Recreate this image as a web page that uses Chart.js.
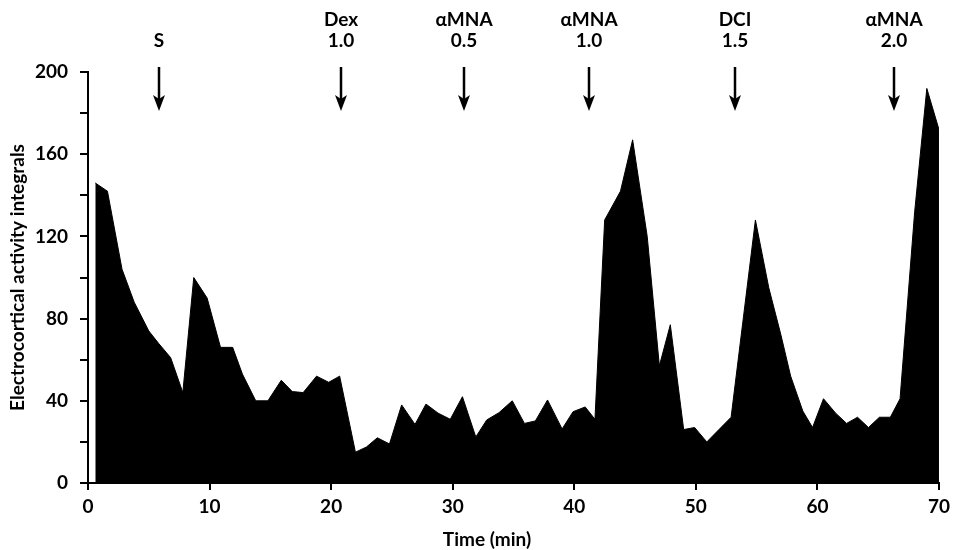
<!DOCTYPE html>
<html>
<head>
<meta charset="utf-8">
<title>Electrocortical activity</title>
<script src="https://cdn.jsdelivr.net/npm/chart.js@4.4.1/dist/chart.umd.min.js"></script>
<style>
  html, body { margin: 0; padding: 0; background: #fff; }
  #chart { display: block; }
</style>
</head>
<body>
<canvas id="chart" width="955" height="550"></canvas>
<script>
"use strict";

// time (min) of each sample and its integral
var times = [0.6, 1.6, 2.8, 3.8, 5.0, 5.8, 6.8, 7.8, 8.7, 9.8,
  10.9, 11.9, 12.7, 13.8, 14.8, 15.9, 16.8, 17.7, 18.8, 19.8,
  20.7, 22.0, 22.9, 23.8, 24.8, 25.8, 26.9, 27.8, 28.8, 29.8,
  30.8, 31.9, 32.8, 33.8, 34.9, 35.9, 36.8, 37.8, 39.0, 39.9,
  40.9, 41.7, 42.5, 43.8, 44.8, 46.0, 47.0, 47.9, 49.0, 49.9,
  50.9, 51.9, 52.9, 54.9, 56.0, 57.0, 57.8, 58.8, 59.6, 60.5,
  61.5, 62.4, 63.3, 64.2, 65.1, 66.0, 66.8, 68.0, 69.0, 70.0];
var values = [146, 142, 104, 88, 74, 68, 61, 44, 100, 90,
  66, 66, 53, 40, 40, 50, 44.5, 44, 52, 49,
  52, 15, 17.5, 22, 19, 38, 28.5, 38.4, 34, 31,
  42, 22.4, 30.7, 34.2, 40, 29, 30.2, 40.4, 26.3, 34.7,
  37, 31, 128, 142, 167, 120, 57, 77, 26, 27,
  20, 26, 32, 128, 95, 72, 52, 35, 27, 41,
  34, 29, 32, 27, 32, 32, 41, 132, 192, 172];

// drug injections marked with arrows above the trace
var arrowTimes = [5.8, 20.8, 30.9, 41.2, 53.2, 66.3];
var arrowNames = ["", "Dex", "αMNA", "αMNA", "DCI", "αMNA"];
var arrowDoses = ["S", "1.0", "0.5", "1.0", "1.5", "2.0"];

var FONT = "Lato, 'Open Sans', sans-serif";
var FS = 19;

var points = times.map(function (t, i) { return { x: t, y: values[i] }; });

var arrowPlugin = {
  id: "arrows",
  afterDraw: function (chart) {
    var ctx = chart.ctx;
    var xs = chart.scales.x;
    ctx.save();
    ctx.fillStyle = "#000";
    ctx.strokeStyle = "#000";
    ctx.font = "bold " + FS + "px " + FONT;
    ctx.textAlign = "center";
    ctx.textBaseline = "middle";
    arrowTimes.forEach(function (t, i) {
      var px = Math.round(xs.getPixelForValue(t));
      if (arrowNames[i]) ctx.fillText(arrowNames[i], px, 20);
      ctx.fillText(arrowDoses[i], px, 41);
      ctx.lineWidth = 2.5;
      ctx.beginPath();
      ctx.moveTo(px, 67);
      ctx.lineTo(px, 100);
      ctx.stroke();
      ctx.beginPath();
      ctx.moveTo(px - 6, 95);
      ctx.lineTo(px, 111);
      ctx.lineTo(px + 6, 95);
      ctx.lineTo(px, 99);
      ctx.closePath();
      ctx.fill();
    });
    // x axis title sits a little left of the axis centre in the original
    ctx.fillText("Time (min)", 487, 540);
    ctx.restore();
  }
};

new Chart(document.getElementById("chart"), {
  type: "line",
  data: {
    datasets: [{
      data: points,
      borderColor: "#000",
      backgroundColor: "#000",
      borderWidth: 1,
      pointRadius: 0,
      tension: 0,
      fill: "origin"
    }]
  },
  options: {
    responsive: false,
    animation: false,
    devicePixelRatio: 1,
    layout: { padding: { top: 72, right: 13, left: 0, bottom: 0 } },
    plugins: { legend: { display: false }, tooltip: { enabled: false } },
    scales: {
      x: {
        type: "linear", min: 0, max: 70,
        afterFit: function (s) { s.height = 67; },
        border: { display: true, color: "#000", width: 2 },
        grid: { drawOnChartArea: false, drawTicks: true, tickLength: 7, color: "#000", lineWidth: 2 },
        ticks: { stepSize: 10, padding: 5, color: "#000", font: { family: FONT, size: FS, weight: "bold" } }
      },
      y: {
        min: 0, max: 200,
        afterFit: function (s) { s.width = 88; },
        border: { display: true, color: "#000", width: 2 },
        grid: { drawOnChartArea: false, drawTicks: true, tickLength: 8, color: "#000", lineWidth: 2 },
        ticks: {
          stepSize: 20, padding: 12, color: "#000",
          font: { family: FONT, size: FS, weight: "bold" },
          callback: function (v) { return v % 40 === 0 ? v : ""; }
        },
        title: { display: true, text: "Electrocortical activity integrals", color: "#000",
          padding: { top: 6, bottom: 0 }, font: { family: FONT, size: FS, weight: "bold" } }
      }
    }
  },
  plugins: [arrowPlugin]
});
</script>
</body>
</html>
